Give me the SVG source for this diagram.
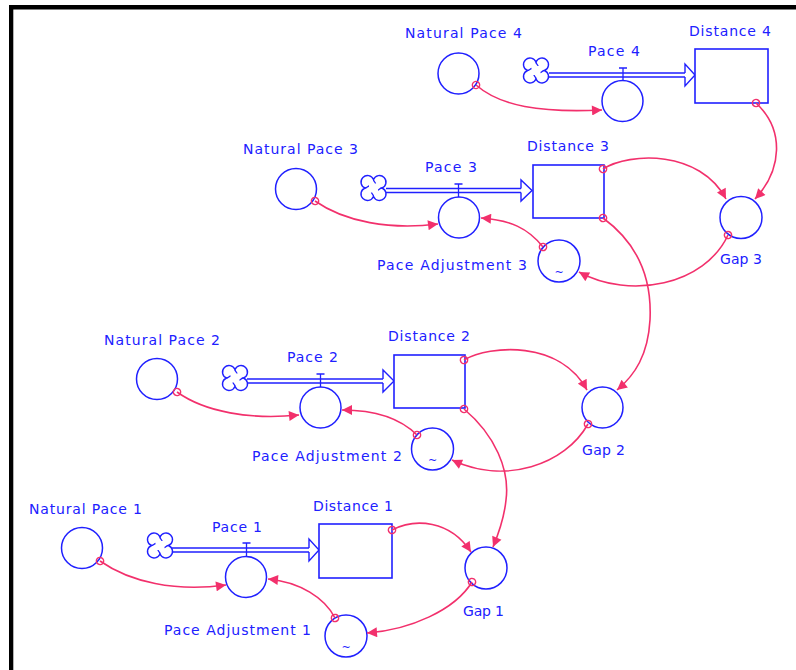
<svg xmlns="http://www.w3.org/2000/svg" width="796" height="670" viewBox="0 0 796 670">
<style>
.node{fill:none;stroke:#2020ff;stroke-width:1.5}
.stock{fill:#fff;stroke:#2020ff;stroke-width:1.6}
.pipe{fill:none;stroke:#2020ff;stroke-width:1.3}
.head{fill:#fff;stroke:#2020ff;stroke-width:1.4;stroke-linejoin:miter}
.cloud{fill:#fff;stroke:#2020ff;stroke-width:1.4}
.lbl{font-family:"DejaVu Sans","Liberation Sans",sans-serif;font-size:14px;fill:#2020ff}
.tl{font-family:"DejaVu Sans","Liberation Sans",sans-serif;font-size:11px;fill:#2020ff;text-anchor:middle}
.link{fill:none;stroke:#f2306c;stroke-width:1.6;marker-start:url(#src);marker-end:url(#arr)}
</style>
<defs>
<marker id="arr" viewBox="0 0 10 10" refX="10" refY="5" markerWidth="11" markerHeight="10" markerUnits="userSpaceOnUse" orient="auto">
<path d="M0,0 L10,5 L0,10 Z" fill="#f2306c"/>
</marker>
<marker id="src" viewBox="-5 -5 10 10" refX="0" refY="0" markerWidth="10" markerHeight="10" markerUnits="userSpaceOnUse" orient="auto">
<circle r="3.6" fill="none" stroke="#f2306c" stroke-width="1.5"/>
</marker>
<g id="cloudshape">
<path class="cloud" d="M0,-8.5 A6.5,6.5 0 1 1 8.5,0 A6.5,6.5 0 1 1 0,8.5 A6.5,6.5 0 1 1 -8.5,0 A6.5,6.5 0 1 1 0,-8.5 Z"/>
<path class="pipe" d="M0,-8.5 c0,2 2,3 2,4 M8.5,0 c-2,0 -3,2 -4,2 M0,8.5 c0,-2 -2,-3 -2,-4 M-8.5,0 c2,0 3,-2 4,-2"/>
</g>
</defs>
<rect x="0" y="0" width="796" height="670" fill="#fff"/>
<rect x="9" y="5" width="787" height="4.5" fill="#000"/>
<rect x="9" y="5" width="4.3" height="665" fill="#000"/>

<!-- Module 4 -->
<g id="natural_pace_4"><circle class="node" cx="458.5" cy="73.5" r="20.5"/><text class="lbl" x="405" y="38" textLength="117" lengthAdjust="spacing">Natural Pace 4</text></g>
<g id="cloud_4"><use href="#cloudshape" x="536" y="70.5"/></g>
<g id="pace_4">
<path class="pipe" d="M549,73 H685 M549,77 H685"/>
<polyline class="head" points="685,73 685,64 695,75 685,86 685,77"/>
<path class="pipe" d="M619,68 H627 M623,68 V81"/>
<circle class="node" cx="622.5" cy="101" r="20.5"/>
<text class="lbl" x="588" y="56" textLength="52" lengthAdjust="spacing">Pace 4</text>
</g>
<g id="distance_4"><rect class="stock" x="695" y="49" width="73" height="54"/><text class="lbl" x="689" y="36" textLength="82" lengthAdjust="spacing">Distance 4</text></g>

<!-- Module 3 -->
<g id="natural_pace_3"><circle class="node" cx="296" cy="189" r="20.5"/><text class="lbl" x="243" y="154" textLength="115" lengthAdjust="spacing">Natural Pace 3</text></g>
<g id="cloud_3"><use href="#cloudshape" x="373.5" y="188"/></g>
<g id="pace_3">
<path class="pipe" d="M386,188.5 H521 M386,192.5 H521"/>
<polyline class="head" points="521,188.5 521,180 532,190.5 521,201 521,192.5"/>
<path class="pipe" d="M454.5,184 H462.5 M458.5,184 V197"/>
<circle class="node" cx="459" cy="217.5" r="20.5"/>
<text class="lbl" x="425" y="172" textLength="52" lengthAdjust="spacing">Pace 3</text>
</g>
<g id="distance_3"><rect class="stock" x="533" y="165" width="71" height="53"/><text class="lbl" x="527" y="151" textLength="82" lengthAdjust="spacing">Distance 3</text></g>
<g id="pace_adjustment_3"><circle class="node" cx="559" cy="261" r="21"/><text class="tl" x="559" y="275.5">~</text><text class="lbl" x="377" y="270" textLength="150" lengthAdjust="spacing">Pace Adjustment 3</text></g>
<g id="gap_3"><circle class="node" cx="741" cy="217.5" r="21"/><text class="lbl" x="720" y="264" textLength="42" lengthAdjust="spacing">Gap 3</text></g>

<!-- Module 2 -->
<g id="natural_pace_2"><circle class="node" cx="157" cy="379" r="20.5"/><text class="lbl" x="104" y="345" textLength="116" lengthAdjust="spacing">Natural Pace 2</text></g>
<g id="cloud_2"><use href="#cloudshape" x="235" y="378"/></g>
<g id="pace_2">
<path class="pipe" d="M247,379 H383 M247,383 H383"/>
<polyline class="head" points="383,379 383,370 394,381 383,392 383,383"/>
<path class="pipe" d="M316.5,374 H324.5 M320.5,374 V387"/>
<circle class="node" cx="320.5" cy="407.5" r="20.5"/>
<text class="lbl" x="287" y="362" textLength="51" lengthAdjust="spacing">Pace 2</text>
</g>
<g id="distance_2"><rect class="stock" x="394" y="355" width="71" height="53"/><text class="lbl" x="388" y="341" textLength="82" lengthAdjust="spacing">Distance 2</text></g>
<g id="pace_adjustment_2"><circle class="node" cx="432.5" cy="449" r="21"/><text class="tl" x="432.5" y="463.5">~</text><text class="lbl" x="252" y="461" textLength="150" lengthAdjust="spacing">Pace Adjustment 2</text></g>
<g id="gap_2"><circle class="node" cx="602.5" cy="407.5" r="20.5"/><text class="lbl" x="582" y="455" textLength="43" lengthAdjust="spacing">Gap 2</text></g>

<!-- Module 1 -->
<g id="natural_pace_1"><circle class="node" cx="82" cy="548" r="20.5"/><text class="lbl" x="29" y="514" textLength="113" lengthAdjust="spacing">Natural Pace 1</text></g>
<g id="cloud_1"><use href="#cloudshape" x="160" y="545.5"/></g>
<g id="pace_1">
<path class="pipe" d="M172,548 H309 M172,552 H309"/>
<polyline class="head" points="309,548 309,539 319,550 309,561 309,552"/>
<path class="pipe" d="M242.5,543 H250.5 M246.5,543 V556"/>
<circle class="node" cx="246" cy="577" r="20.5"/>
<text class="lbl" x="212" y="532" textLength="50" lengthAdjust="spacing">Pace 1</text>
</g>
<g id="distance_1"><rect class="stock" x="319" y="524" width="73" height="54"/><text class="lbl" x="313" y="511" textLength="80" lengthAdjust="spacing">Distance 1</text></g>
<g id="pace_adjustment_1"><circle class="node" cx="346" cy="636" r="21"/><text class="tl" x="346" y="650.5">~</text><text class="lbl" x="164" y="635" textLength="147" lengthAdjust="spacing">Pace Adjustment 1</text></g>
<g id="gap_1"><circle class="node" cx="486" cy="568" r="21"/><text class="lbl" x="463" y="616" textLength="41" lengthAdjust="spacing">Gap 1</text></g>

<!-- Connectors -->
<g id="connectors">
<path class="link" d="M476,85 C500,106 540,113 602,110"/>
<path class="link" d="M756,103 C785,130 782,170 755,199"/>
<path class="link" d="M603,169 C630,152 700,150 726,199"/>
<path class="link" d="M728,235 C705,285 630,300 579,272"/>
<path class="link" d="M543,247 C528,228 510,220 481,218"/>
<path class="link" d="M315,201 C345,222 390,230 438,224"/>
<path class="link" d="M603,218 C640,245 652,280 650,320 C648,355 635,375 617,390"/>
<path class="link" d="M464,360 C490,345 560,340 587,390"/>
<path class="link" d="M588,424 C565,465 505,485 452,460"/>
<path class="link" d="M417,435 C400,418 375,410 342,410"/>
<path class="link" d="M177,392 C205,412 250,420 299,415"/>
<path class="link" d="M464,409 C495,435 510,470 506,500 C504,520 498,535 493,547"/>
<path class="link" d="M392,530 C415,518 450,520 471,552"/>
<path class="link" d="M472,582 C455,610 410,630 367,633"/>
<path class="link" d="M335,618 C325,598 300,582 268,579"/>
<path class="link" d="M100,561 C130,582 175,592 226,585"/>
</g>
</svg>
